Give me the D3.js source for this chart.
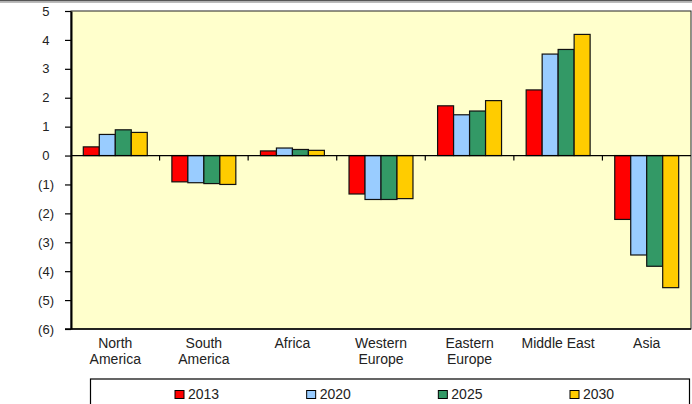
<!DOCTYPE html>
<html><head><meta charset="utf-8">
<script src="https://cdn.jsdelivr.net/npm/d3@7"></script>
<style>
html,body{margin:0;padding:0;background:#fff;}
svg{display:block;font-family:"Liberation Sans",Arial,sans-serif;}
</style></head>
<body><svg id="c" width="692" height="404"></svg>
<script>
const categories = [["North","America"],["South","America"],["Africa"],["Western","Europe"],["Eastern","Europe"],["Middle East"],["Asia"]];
const seriesNames = ["2013","2020","2025","2030"];
const seriesColors = ["#FF0000","#99CCFF","#339966","#FFCC00"];
const v2013 = [0.30,-0.91,0.16,-1.33,1.72,2.27,-2.21];
const v2020 = [0.73,-0.94,0.26,-1.52,1.41,3.51,-3.44];
const v2025 = [0.89,-0.97,0.21,-1.52,1.54,3.67,-3.83];
const v2030 = [0.80,-1.00,0.18,-1.49,1.90,4.19,-4.57];
const yTicks = [5,4,3,2,1,0,-1,-2,-3,-4,-5,-6];

const seriesValues = [v2013,v2020,v2025,v2030];
const svg = d3.select("#c");
const L=71, R=691, T=11, B=329;
const catKeys = categories.map(c=>c.join(" "));
const x = d3.scaleBand().domain(catKeys).range([L,R]).paddingInner(0).paddingOuter(0);
const xs = d3.scaleBand().domain(seriesNames).range([0,x.bandwidth()]).paddingInner(0).paddingOuter(0.77);
const y = d3.scaleLinear().domain([-6,5]).range([B,T]);

// top frame line
svg.append("rect").attr("x",0).attr("y",0).attr("width",692).attr("height",1.5).attr("fill","#555");
svg.append("rect").attr("x",0).attr("y",1.5).attr("width",692).attr("height",1.5).attr("fill","#bbb");

// plot bg
svg.append("rect").attr("x",L).attr("y",T).attr("width",R-L).attr("height",B-T)
  .attr("fill","#FFFFCC").attr("stroke","#222").attr("stroke-width",1);

// bars
const g = svg.append("g");
seriesNames.forEach((s,si)=>{
  g.selectAll(null).data(seriesValues[si]).enter().append("rect")
    .attr("x",(d,i)=>x(catKeys[i])+xs(s))
    .attr("y",d=>y(Math.max(0,d)))
    .attr("width",xs.bandwidth())
    .attr("height",d=>Math.abs(y(d)-y(0)))
    .attr("fill",seriesColors[si]).attr("stroke","#111").attr("stroke-width",1.2);
});

// zero line
svg.append("line").attr("x1",L).attr("x2",R).attr("y1",y(0)).attr("y2",y(0)).attr("stroke","#000").attr("stroke-width",1.2);
// category ticks on zero line
svg.selectAll(null).data(catKeys.slice(1)).enter().append("line")
  .attr("x1",d=>x(d)).attr("x2",d=>x(d)).attr("y1",y(0)).attr("y2",y(0)+5)
  .attr("stroke","#000").attr("stroke-width",1.2);

// y axis
const fmt = d=> d<0 ? "("+Math.abs(d)+")" : String(d);
const ya = svg.append("g").attr("transform",`translate(${L},0)`)
  .call(d3.axisLeft(y).tickValues(yTicks).tickFormat(fmt).tickSize(6).tickSizeOuter(0).tickPadding(17));
ya.select(".domain").attr("stroke","#000").attr("stroke-width",2);
ya.selectAll(".tick line").attr("stroke","#000").attr("stroke-width",1.2);
ya.selectAll(".tick text").attr("font-size",13).attr("fill","#222")
  .attr("font-family","'Liberation Sans',Arial,sans-serif")
  .attr("x",d=> d<0 ? -17 : -21.5);

// bottom axis line
svg.append("line").attr("x1",L-6).attr("x2",R).attr("y1",B).attr("y2",B).attr("stroke","#000").attr("stroke-width",1.6);

// category labels
const cl = svg.append("g").attr("font-size",14).attr("fill","#222").attr("text-anchor","middle");
categories.forEach((c,i)=>{
  const t = cl.append("text").attr("x",x(catKeys[i])+x.bandwidth()/2).attr("y",348);
  c.forEach((line,j)=>t.append("tspan").attr("x",x(catKeys[i])+x.bandwidth()/2).attr("dy",j?16:0).text(line));
});

// legend
svg.append("rect").attr("x",90.5).attr("y",379).attr("width",599).attr("height",40)
  .attr("fill","#fff").attr("stroke","#000").attr("stroke-width",1.2);
const lx = d3.scalePoint().domain(seriesNames).range([175,570]);
const lg = svg.append("g");
seriesNames.forEach((s,i)=>{
  lg.append("rect").attr("x",lx(s)).attr("y",390.5).attr("width",9).attr("height",8)
    .attr("fill",seriesColors[i]).attr("stroke","#000").attr("stroke-width",1);
  lg.append("text").attr("x",lx(s)+13).attr("y",399).attr("font-size",14).attr("fill","#222").text(s);
});
</script></body></html>
